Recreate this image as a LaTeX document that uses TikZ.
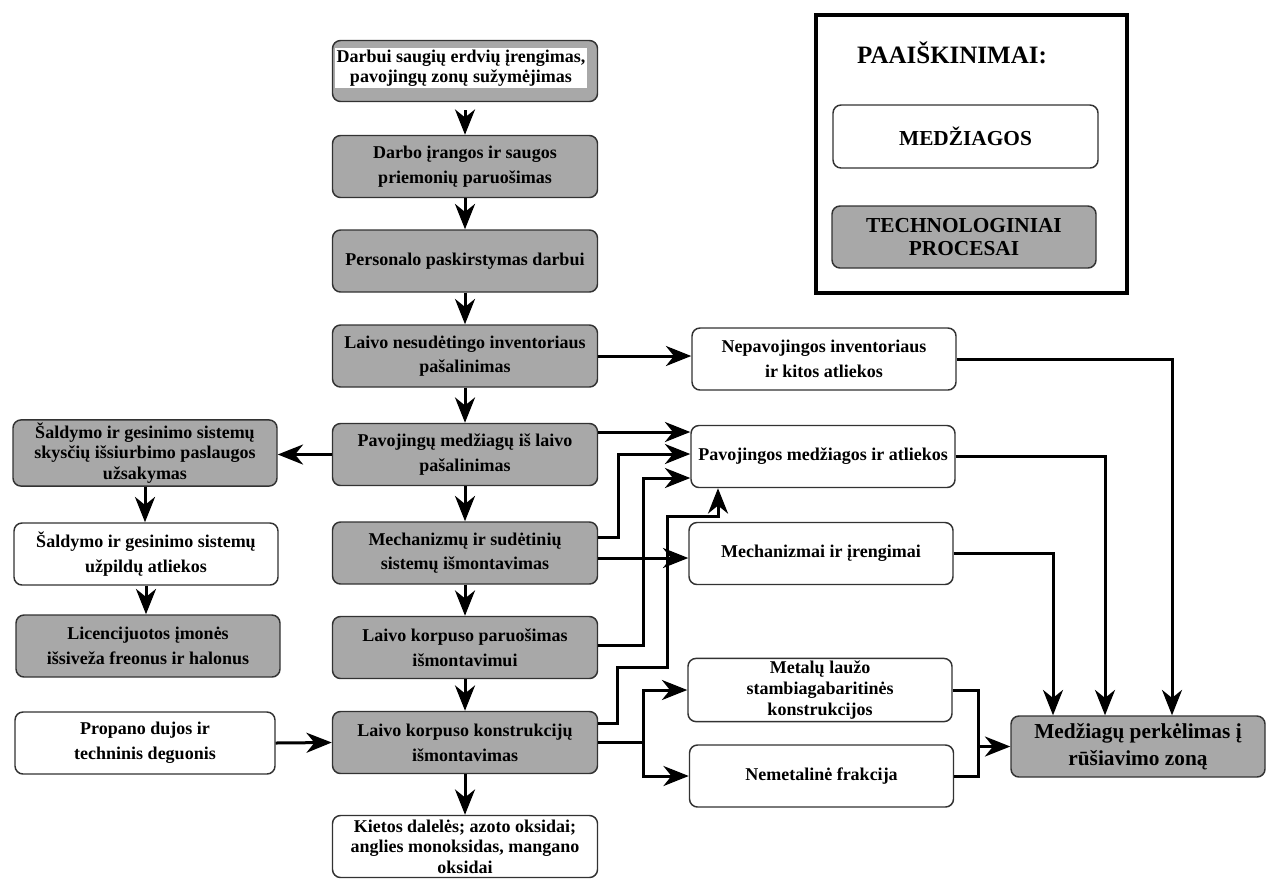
\documentclass[tikz,border=0pt]{standalone}
\usepackage{fontspec}
\setmainfont{Liberation Serif}
\usetikzlibrary{arrows.meta,calc}
\definecolor{boxgray}{RGB}{168,168,168}
\definecolor{edgegray}{RGB}{50,50,50}
\tikzset{
  base/.style={draw=edgegray, line width=1.1pt, rounded corners=6pt, align=center,
    font=\bfseries\fontsize{13.5}{18.5}\selectfont, inner sep=2pt,
    minimum width=198.75pt, minimum height=46.5pt},
  proc/.style={base, fill=boxgray},
  mat/.style={base, fill=white},
  tight/.style={font=\bfseries\fontsize{13.5}{15.5}\selectfont},
  arr/.style={line width=2.25pt, -{Stealth[length=19pt,width=15pt,inset=6pt]}},
  ln/.style={line width=2.25pt},
}
\begin{document}
\begin{tikzpicture}[x=0.75pt,y=-0.75pt]
\useasboundingbox (0,0) rectangle (1267,886);
% central column
\node[proc, minimum height=45.75pt] (N1) at (465,71) {};
\node[fill=white, inner sep=1pt, align=center, font=\bfseries\fontsize{13.5}{15}\selectfont] (N1t) at (461,68) {Darbui saugių erdvių įrengimas,\\pavojingų zonų sužymėjimas};
\node[proc] (N2) at (465,166.5) {Darbo įrangos ir saugos\\priemonių paruošimas};
\node[proc] (N3) at (465,261) {Personalo paskirstymas darbui};
\node[proc] (N4) at (465,356) {Laivo nesudėtingo inventoriaus\\pašalinimas};
\node[proc] (N5) at (465,454.5) {Pavojingų medžiagų iš laivo\\pašalinimas};
\node[proc] (N6) at (465,553) {Mechanizmų ir sudėtinių\\sistemų išmontavimas};
\node[proc] (N7) at (465,647.5) {Laivo korpuso paruošimas\\išmontavimui};
\node[proc] (N8) at (465,742.5) {Laivo korpuso konstrukcijų\\išmontavimas};
\node[mat, tight] (N9) at (465,846.5) {Kietos dalelės; azoto oksidai;\\anglies monoksidas, mangano\\oksidai};
% left column
\node[proc, tight, minimum width=198pt] (L1) at (145,453) {Šaldymo ir gesinimo sistemų\\skysčių išsiurbimo paslaugos\\užsakymas};
\node[mat, minimum width=198pt] (L2) at (146,554) {Šaldymo ir gesinimo sistemų\\užpildų atliekos};
\node[proc, minimum width=198pt] (L3) at (148,646) {Licencijuotos įmonės\\išsiveža freonus ir halonus};
\node[mat, minimum width=195pt] (L4) at (145,743) {Propano dujos ir\\techninis deguonis};
% right column
\node[mat, minimum width=198pt] (R1) at (824,359) {Nepavojingos inventoriaus\\ir kitos atliekos};
\node[mat, minimum width=198pt] (R2) at (823,456.5) {Pavojingos medžiagos ir atliekos};
\node[mat, minimum width=198pt] (R3) at (821,553.5) {Mechanizmai ir įrengimai};
\node[mat, tight, minimum width=198pt] (R4) at (820,690) {Metalų laužo\\stambiagabaritinės\\konstrukcijos};
\node[mat, minimum width=198pt] (R5) at (821.5,776) {Nemetalinė frakcija};
% final
\node[proc, minimum width=190.5pt, minimum height=45.75pt, font=\bfseries\fontsize{16}{20}\selectfont] (F) at (1138,746.5) {Medžiagų perkėlimas į\\rūšiavimo zoną};
% legend
\node[draw=black, line width=3pt, minimum width=233.25pt, minimum height=208.5pt] (leg) at (971.5,154) {};
\node[font=\bfseries\fontsize{18.75}{22}\selectfont] (legt) at (952,53) {PAAIŠKINIMAI:};
\node[mat, minimum height=47.25pt, font=\bfseries\fontsize{16}{17.5}\selectfont] (legm) at (965.5,136.5) {MEDŽIAGOS};
\node[proc, minimum width=198pt, font=\bfseries\fontsize{16}{17.5}\selectfont] (legp) at (964,237) {TECHNOLOGINIAI\\PROCESAI};
% vertical arrows in the central column
\draw[arr, shorten <=6pt] (N1.south) -- (N2.north);
\foreach \a/\b in {N2/N3,N3/N4,N4/N5,N5/N6,N6/N7,N7/N8,N8/N9}
  \draw[arr] (\a.south) -- (\b.north);
% left side
\draw[arr] (N5.west) -- (L1.east |- N5.west);
\draw[arr] (L1.south) -- (L1.south |- L2.north);
\draw[arr] (L2.south) -- (L2.south |- L3.north);
\draw[arr] (L4.east) -- (N8.west);
% to right column
\draw[arr] (N4.east) -- (R1.west |- N4.east);
\draw[arr] (N5.east |- 0,432) -- (R2.west |- 0,432);
\draw[arr] (N6.east |- 0,537) -| (618,454) -- (R2.west |- 0,454);
\draw[arr] (N7.east |- 0,645) -| (643,478) -- (R2.west |- 0,478);
\draw[arr] (N8.east |- 0,723) -| (617,667) -| (667,516) -| (R2.south -| 718,0);
\draw[arr] (N6.east |- 0,558) -- (R3.west |- 0,558);
\coordinate (s8) at (643,742.5);
\draw[ln] (N8.east) -- (s8);
\draw[arr] (s8) |- (R4.west);
\draw[arr] (s8) |- (R5.west);
% to final node
\coordinate (m45) at (978,746.5);
\draw[ln] (R4.east) -| (m45);
\draw[ln] (R5.east) -| (m45);
\draw[arr] (m45) -- (F.west);
\draw[arr] (R1.east) -| (F.north -| 1172,0);
\draw[arr] (R2.east) -| (F.north -| 1105,0);
\draw[arr] (R3.east) -| (F.north -| 1053,0);
\end{tikzpicture}
\end{document}
